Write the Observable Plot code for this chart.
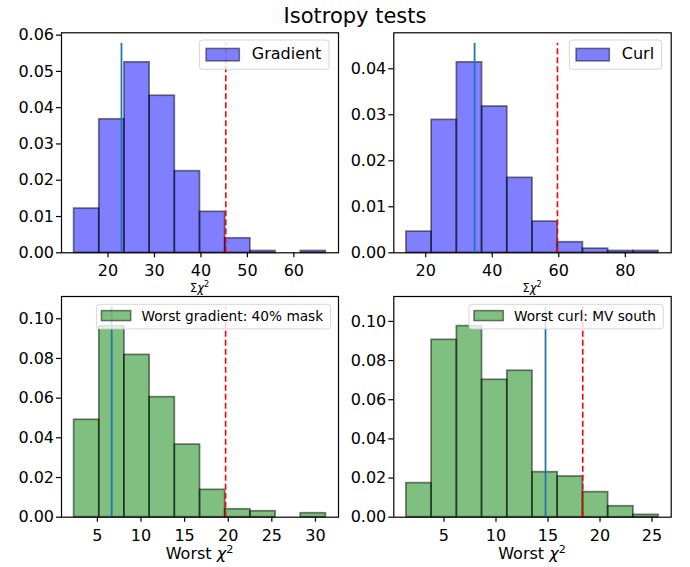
<!DOCTYPE html>
<html>
<head>
<meta charset="utf-8">
<script src="https://cdn.jsdelivr.net/npm/d3@7"></script>
<script src="https://cdn.jsdelivr.net/npm/@observablehq/plot@0.6"></script>
<style>
  html, body { margin: 0; padding: 0; background: #ffffff; }
  #fig { position: relative; width: 690px; height: 567px; overflow: hidden; background: #ffffff; font-family: "DejaVu Sans", sans-serif; }
  #fig svg { position: absolute; }
  #title { position: absolute; left: 205px; width: 300px; top: 5.5px; text-align: center; font-size: 21px; line-height: 1; color: #000; white-space: nowrap; }
</style>
</head>
<body>
<div id="fig"><div id="title"></div></div>
<script>
// ---------------- data ----------------
const titleText = "Isotropy tests";

// Σχ² gradient
const gradEdges = [12.7, 18.12, 23.54, 28.96, 34.38, 39.8, 45.22, 50.64, 56.06, 61.48, 66.9];
const gradDensity = [0.0122, 0.0368, 0.0525, 0.0433, 0.0225, 0.0113, 0.0040, 0.0005, 0.0, 0.0005];
const gradObserved = 22.9;
const gradThreshold = 45.35;
const gradLabel = "Gradient";

// Σχ² curl
const curlEdges = [14.2, 21.78, 29.36, 36.94, 44.52, 52.1, 59.68, 67.26, 74.84, 82.42, 90.0];
const curlDensity = [0.0046, 0.0289, 0.0414, 0.0318, 0.0163, 0.0068, 0.0023, 0.0009, 0.0004, 0.0004];
const curlObserved = 34.7;
const curlThreshold = 59.6;
const curlLabel = "Curl";

// worst χ² gradient
const worstGradEdges = [2.33, 5.22, 8.10, 10.99, 13.88, 16.77, 19.65, 22.54, 25.43, 28.31, 31.2];
const worstGradDensity = [0.0491, 0.0963, 0.0818, 0.0605, 0.0366, 0.0138, 0.0040, 0.0030, 0.0, 0.0020];
const worstGradObserved = 6.64;
const worstGradThreshold = 19.7;
const worstGradLabel = "Worst gradient: 40% mask";

// worst χ² curl
const worstCurlEdges = [1.39, 3.81, 6.24, 8.66, 11.09, 13.51, 15.93, 18.36, 20.78, 23.21, 25.63];
const worstCurlDensity = [0.0174, 0.0906, 0.0976, 0.0702, 0.0748, 0.0230, 0.0208, 0.0128, 0.0056, 0.0012];
const worstCurlObserved = 14.76;
const worstCurlThreshold = 18.34;
const worstCurlLabel = "Worst curl: MV south";

// tick labels
const gradXTicks = [20, 30, 40, 50, 60];
const curlXTicks = [20, 40, 60, 80];
const worstGradXTicks = [5, 10, 15, 20, 25, 30];
const worstCurlXTicks = [5, 10, 15, 20, 25];
const gradYTicks = [0, 0.01, 0.02, 0.03, 0.04, 0.05, 0.06];
const curlYTicks = [0, 0.01, 0.02, 0.03, 0.04];
const worstYTicks = [0, 0.02, 0.04, 0.06, 0.08, 0.10];

const sumAxisLabel = ["Σ", "χ", "2"];
const worstAxisLabel = ["Worst ", "χ", "2"];

// ---------------- layout ----------------
const rows = {
  top:    { top: 0,   h: 295, mt: 32.3, mb: 42.7, bg: "transparent", legendFont: 16, legendH: 29.3, legendOff: 7.7, legendPad: 9, swLeft: 6.7, swW: 33.3, swH: 12.5, swGap: 12.4, txtEnd: 7.6, baseOff: 18.5,
            labelFont: 11.5, labelBase: 292 },
  bottom: { top: 295, h: 272, mt: 1,    mb: 50.3, bg: "#ffffff",     legendFont: 13.7, legendH: 24.6, legendOff: 8.3, legendPad: 7.4, swLeft: 5, swW: 29.3, swH: 10, swGap: 10.7, txtEnd: 7.4, baseOff: 17,
            labelFont: 16, labelBase: 264.3 }
};
const cols = {
  left:  { left: 0,   ml: 61,   mr: 7 },
  right: { left: 345, ml: 48.3, mr: 19.3 }
};

const panels = [
  { row: "top", col: "left", edges: gradEdges, density: gradDensity, observed: gradObserved, threshold: gradThreshold, label: gradLabel, color: "#0000ff", xTicks: gradXTicks, yTicks: gradYTicks, axisLabel: sumAxisLabel },
  { row: "top", col: "right", edges: curlEdges, density: curlDensity, observed: curlObserved, threshold: curlThreshold, label: curlLabel, color: "#0000ff", xTicks: curlXTicks, yTicks: curlYTicks, axisLabel: sumAxisLabel },
  { row: "bottom", col: "left", edges: worstGradEdges, density: worstGradDensity, observed: worstGradObserved, threshold: worstGradThreshold, label: worstGradLabel, color: "#008000", xTicks: worstGradXTicks, yTicks: worstYTicks, axisLabel: worstAxisLabel },
  { row: "bottom", col: "right", edges: worstCurlEdges, density: worstCurlDensity, observed: worstCurlObserved, threshold: worstCurlThreshold, label: worstCurlLabel, color: "#008000", xTicks: worstCurlXTicks, yTicks: worstYTicks, axisLabel: worstAxisLabel }
];

const fig = document.getElementById("fig");
document.getElementById("title").textContent = titleText;

function drawPanel(p) {
  const R = rows[p.row], C = cols[p.col];
  const W = 345;
  const bars = p.edges.slice(0, -1).map((e, i) => ({ x1: e, x2: p.edges[i + 1], h: p.density[i] }));
  const hMax = d3.max(p.density);
  const lineTop = hMax * 1.1;
  const yTop = lineTop * 1.05;
  const lo = p.edges[0], hi = p.edges[p.edges.length - 1];
  const pad = (hi - lo) * 0.05;

  const svg = Plot.plot({
    width: W, height: R.h,
    marginLeft: C.ml, marginRight: C.mr, marginTop: R.mt, marginBottom: R.mb,
    style: { fontFamily: "DejaVu Sans, sans-serif", fontSize: "16px", color: "#000", background: R.bg, overflow: "hidden" },
    x: { domain: [lo - pad, hi + pad] },
    y: { domain: [0, yTop] },
    marks: [
      Plot.rect(bars, { x1: "x1", x2: "x2", y1: 0, y2: "h", fill: p.color, fillOpacity: 0.5, stroke: "#000", strokeOpacity: 0.5, strokeWidth: 1.7 }),
      Plot.ruleX([p.observed], { y1: 0, y2: lineTop, stroke: "#1f77b4", strokeWidth: 1.8 }),
      Plot.ruleX([p.threshold], { y1: 0, y2: lineTop, stroke: "#ff0000", strokeWidth: 1.6, strokeDasharray: "6,3" }),
      Plot.axisX({ ticks: p.xTicks, tickSize: 5, tickPadding: 7, fontSize: 16, label: null, tickFormat: d => String(d), strokeWidth: 1.2 }),
      Plot.axisY({ ticks: p.yTicks, tickSize: 5, tickPadding: 2.5, fontSize: 16, label: null, tickFormat: d3.format(".2f"), strokeWidth: 1.2 }),
      Plot.frame({ stroke: "#000", strokeWidth: 1.2 })
    ]
  });
  svg.style.left = C.left + "px";
  svg.style.top = R.top + "px";
  fig.appendChild(svg);

  const s = d3.select(svg);
  const frameRight = W - C.mr;
  const frameCenter = (C.ml + W - C.mr) / 2;

  // axis label
  const lab = s.append("text")
    .attr("x", frameCenter).attr("y", R.labelBase)
    .attr("text-anchor", "middle")
    .attr("font-family", "DejaVu Sans, sans-serif")
    .attr("font-size", R.labelFont)
    .attr("fill", "#000");
  lab.append("tspan").text(p.axisLabel[0]);
  lab.append("tspan").attr("font-style", "italic").text(p.axisLabel[1]);
  lab.append("tspan").attr("font-size", R.labelFont * 0.7).attr("dy", -R.labelFont * 0.42).text(p.axisLabel[2]);

  // legend
  const g = s.append("g").attr("text-anchor", "start");
  const box = g.append("rect");
  const txt = g.append("text")
    .attr("text-anchor", "start")
    .attr("font-family", "DejaVu Sans, sans-serif")
    .attr("font-size", R.legendFont)
    .attr("fill", "#000")
    .text(p.label);
  const tw = txt.node().getComputedTextLength();
  const bw = R.swLeft + R.swW + R.swGap + tw + R.txtEnd;
  const bRight = frameRight - R.legendPad;
  const bLeft = bRight - bw;
  const bTop = R.mt + R.legendOff;
  box.attr("x", bLeft).attr("y", bTop).attr("width", bw).attr("height", R.legendH)
    .attr("rx", 3).attr("ry", 3)
    .attr("fill", "#fff").attr("fill-opacity", 0.8)
    .attr("stroke", "#cccccc").attr("stroke-opacity", 0.8).attr("stroke-width", 1);
  const cy = bTop + R.legendH / 2 - (p.row === "bottom" ? 1 : 0);
  g.insert("rect", "text")
    .attr("x", bLeft + R.swLeft).attr("y", cy - R.swH / 2)
    .attr("width", R.swW).attr("height", R.swH)
    .attr("fill", p.color).attr("fill-opacity", 0.5)
    .attr("stroke", "#000").attr("stroke-opacity", 0.5).attr("stroke-width", 1.5);
  txt.attr("x", bLeft + R.swLeft + R.swW + R.swGap).attr("y", bTop + R.baseOff);
}

panels.forEach(drawPanel);
</script>
</body>
</html>
